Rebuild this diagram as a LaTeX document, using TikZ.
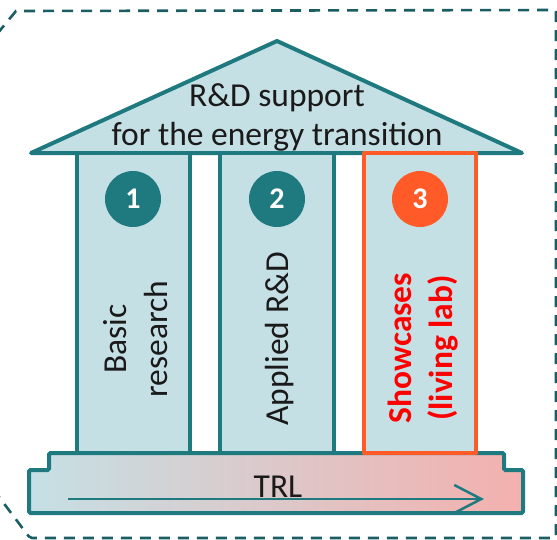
\documentclass[tikz,border=0pt]{standalone}
\usepackage{fontspec}
\setmainfont{Carlito}
\usetikzlibrary{arrows.meta}
\definecolor{tealc}{HTML}{1F7A80}
\definecolor{framec}{HTML}{1A5E63}
\definecolor{fillc}{HTML}{C5E0E5}
\definecolor{pinkc}{HTML}{F4B0AE}
\definecolor{orangec}{HTML}{FF5A28}
\definecolor{textc}{HTML}{1A1A1A}
\tikzset{
  px/.style={x=1pt,y=-1pt},
  pillarbox/.style={fill=fillc,draw=tealc,line width=4pt,line join=round},
  numdisc/.style={circle,fill=tealc,minimum size=56pt,inner sep=0pt,text=white,font=\fontsize{30}{36}\selectfont\bfseries},
  bigtext/.style={font=\fontsize{33.5}{39}\selectfont,text=textc,inner sep=0pt},
  pillartext/.style={font=\fontsize{33.5}{41}\selectfont,text=textc,inner sep=0pt,rotate=90,align=center},
}
\begin{document}
\begin{tikzpicture}[px]
\useasboundingbox (0,0) rectangle (557,539);
% dashed frame
\draw[framec,line width=2.6pt,dash pattern=on 11pt off 8pt]
  (-3,34) -- (16,11) [rounded corners=2pt]-- (556,10) -- (556,538) -- (30,538) -- (-4,493);
% roof
\draw[fill=fillc,draw=tealc,line width=4pt,line join=round] (31,153) -- (277,41) -- (522,153) -- cycle;
\node[bigtext,anchor=base] (roof1) at (277,106) {R\&D support};
\node[bigtext,anchor=base] (roof2) at (277,145) {for the energy transition};
% base
\draw[left color=fillc,right color=pinkc,draw=tealc,line width=4pt,rounded corners=1.5pt]
  (49,453) -- (504,453) -- (504,470) -- (523,470) -- (523,513) -- (29,513) -- (29,470) -- (49,470) -- cycle;
\node[bigtext,anchor=base] (trl) at (278,497) {TRL};
\coordinate (trlstart) at (68,499);
\coordinate (trlend) at (484,499);
\draw[tealc,line width=2.5pt,-{Straight Barb[length=27pt,width=28pt,line width=2.5pt]}] (trlstart) -- (trlend);
% pillars
\draw[pillarbox] (77,153) rectangle (190,453);
\draw[pillarbox] (220,153) rectangle (334,453);
\draw[pillarbox,draw=orangec,line width=4.5pt] (364,153) rectangle (476,453);
% discs
\node[numdisc] (n1) at (133,199) {1};
\node[numdisc] (n2) at (277,199) {2};
\node[numdisc,fill=orangec] (n3) at (420,199) {3};
% pillar texts
\node[pillartext] (p1) at (136,339) {Basic\\research};
\node[pillartext] (p2) at (280,339) {Applied R\&D};
\node[pillartext,text=red,font=\fontsize{33.5}{41}\selectfont\bfseries] (p3) at (423,348) {Showcases\\(living lab)};
\end{tikzpicture}
\end{document}
